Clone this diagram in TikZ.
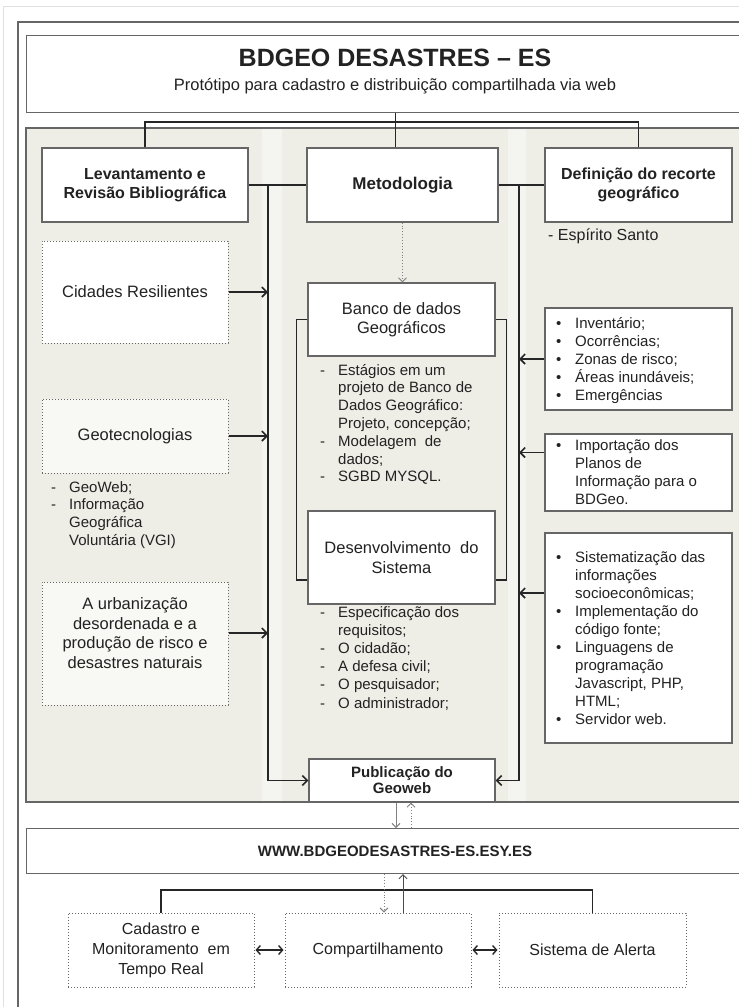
\documentclass[tikz,border=0pt]{standalone}
\usepackage{fontspec}
\setmainfont{Liberation Sans}
\usetikzlibrary{arrows.meta}
\definecolor{panel}{HTML}{EEEDE6}
\definecolor{strip}{HTML}{F4F4F0}
\definecolor{edge}{HTML}{666666}
\definecolor{ink}{HTML}{222222}
\definecolor{lightfill}{HTML}{F8F8F5}
\newcommand\fHead{\fontsize{16}{19}\selectfont\bfseries}
\newcommand\fBox{\fontsize{16.5}{19.5}\selectfont}
\newcommand\fList{\fontsize{15}{17.8}\selectfont}
\newcommand\dashi{\makebox[18pt][l]{-}}
\newcommand\bull{\makebox[19pt][l]{\textbullet}}
\begin{document}
\begin{tikzpicture}[x=1pt,y=-1pt,
  box/.style={draw=edge, line width=1.2pt, fill=white, inner sep=0pt, align=center, text=ink},
  dbox/.style={draw=edge, line width=1pt, dotted, fill=white, inner sep=0pt, align=center, text=ink},
  conn/.style={draw=black!85, line width=1.6pt},
  arr/.style={conn, -{Straight Barb[length=5pt,width=10pt]}},
  garr/.style={draw=gray, line width=0.9pt, -{Straight Barb[length=4pt,width=8pt]}},
  dbl/.style={draw=black!85, line width=1.4pt, {Straight Barb[length=4pt,width=9pt]}-{Straight Barb[length=4pt,width=9pt]}, shorten <=1pt, shorten >=1pt},
  lst/.style={anchor=base west, align=left, inner sep=0pt, font=\fList, text=ink}
]
\useasboundingbox (0,0) rectangle (739,1007);
\clip (0,0) rectangle (739,1007);
% faint outer border and frame
\draw[black!12, line width=0.8pt] (3.5,1010) -- (3.5,6) -- (745,6);
\draw[edge, line width=1.3pt] (18,1010) -- (18,22) -- (745,22);
% title
\node[box, minimum width=738, minimum height=77, anchor=north west] (title) at (26,35) {};
\node[font=\fontsize{25}{28}\selectfont\bfseries, text=ink] (ttl) at (395,58) {BDGEO DESASTRES – ES};
\node[font=\fontsize{16.5}{19}\selectfont, text=ink] (sub) at (395,86) {Protótipo para cadastro e distribuição compartilhada via web};
% panel
\fill[panel] (26,128) rectangle (764,802);
\fill[strip] (262,129) rectangle (282,801);
\fill[strip] (508,129) rectangle (526,801);
\draw[edge, line width=1.2pt] (26,128) rectangle (764,802);
% top row
\node[box, minimum width=206, minimum height=74, font=\fHead] (lev) at (145,185) {Levantamento e\\Revisão Bibliográfica};
\node[box, minimum width=191, minimum height=74, font=\fontsize{17}{20}\selectfont\bfseries] (meto) at (402.5,185) {Metodologia};
\node[box, minimum width=187, minimum height=74, font=\fHead] (def) at (638.5,185) {Definição do recorte\\geográfico};
\coordinate (tj) at (395,122);
\draw[conn] (title.south) -- (title.south |- meto.north);
\draw[conn] (lev.north) -- (lev.north |- tj) -- (def.north |- tj) -- (def.north);
% buses
\coordinate (lb) at (268,185);
\coordinate (rb) at (519,185);
\draw[conn] (lev.east) -- (meto.west);
\draw[conn] (meto.east) -- (def.west);
% publicacao
\node[box, minimum width=186, minimum height=43, font=\fontsize{15}{16}\selectfont\bfseries] (pub) at (402,780.5) {Publicação do\\Geoweb};
\draw[arr] (lb) |- (pub.west);
\draw[arr] (rb) |- (pub.east);
% left column
\node[dbox, minimum width=186, minimum height=102, font=\fBox] (cid) at (135,292) {Cidades Resilientes};
\draw[arr] (cid.east) -- (cid.east -| lb);
\node[dbox, fill=lightfill, minimum width=186, minimum height=74, font=\fBox] (geo) at (135,436) {Geotecnologias};
\draw[arr] (geo.east) -- (geo.east -| lb);
\node[lst] (geol) at (51,545.4) {\dashi GeoWeb;\\\dashi Informação\\\hspace*{18pt}Geográfica\\\hspace*{18pt}Voluntária (VGI)};
\node[dbox, fill=lightfill, minimum width=186, minimum height=123] (urb) at (135,643.5) {};
\node[align=center, font=\fBox, text=ink, inner sep=0pt] (urbt) at (135,633) {A urbanização\\desordenada e a\\produção de risco e\\desastres naturais};
\draw[arr] (urb.east |- urbt) -- (lb |- urbt);
% middle column
\node[box, minimum width=187, minimum height=73, font=\fBox] (banco) at (401.5,319.5) {Banco de dados\\Geográficos};
\draw[garr, dotted] (meto.south) -- (meto.south |- banco.north);
\node[box, minimum width=187, minimum height=93, font=\fBox] (des) at (401.5,557.5) {Desenvolvimento\ \ do\\Sistema};
\draw[conn] (banco.west) -| ([xshift=-11pt,yshift=-22.5pt]des.west) -- ([yshift=-22.5pt]des.west);
\draw[conn] (banco.east) -| ([xshift=11pt,yshift=-22.5pt]des.east) -- ([yshift=-22.5pt]des.east);
\node[lst] (estag) at (320,481.8) {\dashi Estágios em um\\\hspace*{18pt}projeto de Banco de\\\hspace*{18pt}Dados Geográfico:\\\hspace*{18pt}Projeto, concepção;\\\dashi Modelagem\ \ de\\\hspace*{18pt}dados;\\\dashi SGBD MYSQL.};
\node[lst, font=\fontsize{15}{18.2}\selectfont] (espec) at (320,708) {\dashi Especificação dos\\\hspace*{18pt}requisitos;\\\dashi O cidadão;\\\dashi A defesa civil;\\\dashi O pesquisador;\\\dashi O administrador;};
% right column
\node[lst, font=\fontsize{16}{19}\selectfont] (es) at (548,240) {- Espírito Santo};
\node[box, minimum width=187, minimum height=102] (inv) at (638.5,359) {};
\node[lst, font=\fontsize{15}{18.2}\selectfont] (invt) at (556,400.8) {\bull Inventário;\\\bull Ocorrências;\\\bull Zonas de risco;\\\bull Áreas inundáveis;\\\bull Emergências};
\draw[arr] (inv.west) -- (inv.west -| rb);
\node[box, minimum width=187, minimum height=77] (imp) at (638.5,472.5) {};
\node[lst, font=\fontsize{15}{18.3}\selectfont] (impt) at (556,504.9) {\bull Importação dos\\\hspace*{19pt}Planos de\\\hspace*{19pt}Informação para o\\\hspace*{19pt}BDGeo.};
\draw[arr] ([yshift=20pt]imp.west) -- ([yshift=20pt]imp.west -| rb);
\node[box, minimum width=187, minimum height=210] (sis) at (638.5,638) {};
\node[lst, font=\fontsize{15}{18.1}\selectfont] (sist) at (556,724.9) {\bull Sistematização das\\\hspace*{19pt}informações\\\hspace*{19pt}socioeconômicas;\\\bull Implementação do\\\hspace*{19pt}código fonte;\\\bull Linguagens de\\\hspace*{19pt}programação\\\hspace*{19pt}Javascript, PHP,\\\hspace*{19pt}HTML;\\\bull Servidor web.};
\draw[arr] ([yshift=45pt]sis.west) -- ([yshift=45pt]sis.west -| rb);
% www
\node[box, minimum width=738, minimum height=45, anchor=north west] (wwwb) at (26,828) {};
\node[font=\fontsize{15}{18}\selectfont\bfseries, text=ink] (www) at (395,851) {WWW.BDGEODESASTRES-ES.ESY.ES};
\draw[garr] ([xshift=-6pt]pub.south) -- ([xshift=-6pt]pub.south |- wwwb.north);
\draw[garr, dotted] ([xshift=9pt]pub.south |- wwwb.north) -- ([xshift=9pt]pub.south);
% bottom row
\node[dbox, minimum width=186, minimum height=74, font=\fontsize{16}{20}\selectfont] (cad) at (161,950) {Cadastro e\\Monitoramento\ \ em\\Tempo Real};
\node[dbox, minimum width=186, minimum height=74, font=\fontsize{16}{20}\selectfont] (comp) at (378,950) {Compartilhamento};
\node[dbox, minimum width=187, minimum height=74, font=\fontsize{16}{20}\selectfont] (sal) at (592.5,950) {Sistema de Alerta};
\coordinate (bb) at (378,890);
\draw[conn] (cad.north) -- (cad.north |- bb) -- (sal.north |- bb) -- (sal.north);
\draw[garr, dotted] ([xshift=6pt]comp.north |- wwwb.south) -- ([xshift=6pt]comp.north);
\draw[garr, draw=black!70] ([xshift=25pt]comp.north) -- ([xshift=25pt]comp.north |- wwwb.south);
\draw[dbl] (cad.east) -- (comp.west);
\draw[dbl] (comp.east) -- (sal.west);
\end{tikzpicture}
\end{document}
